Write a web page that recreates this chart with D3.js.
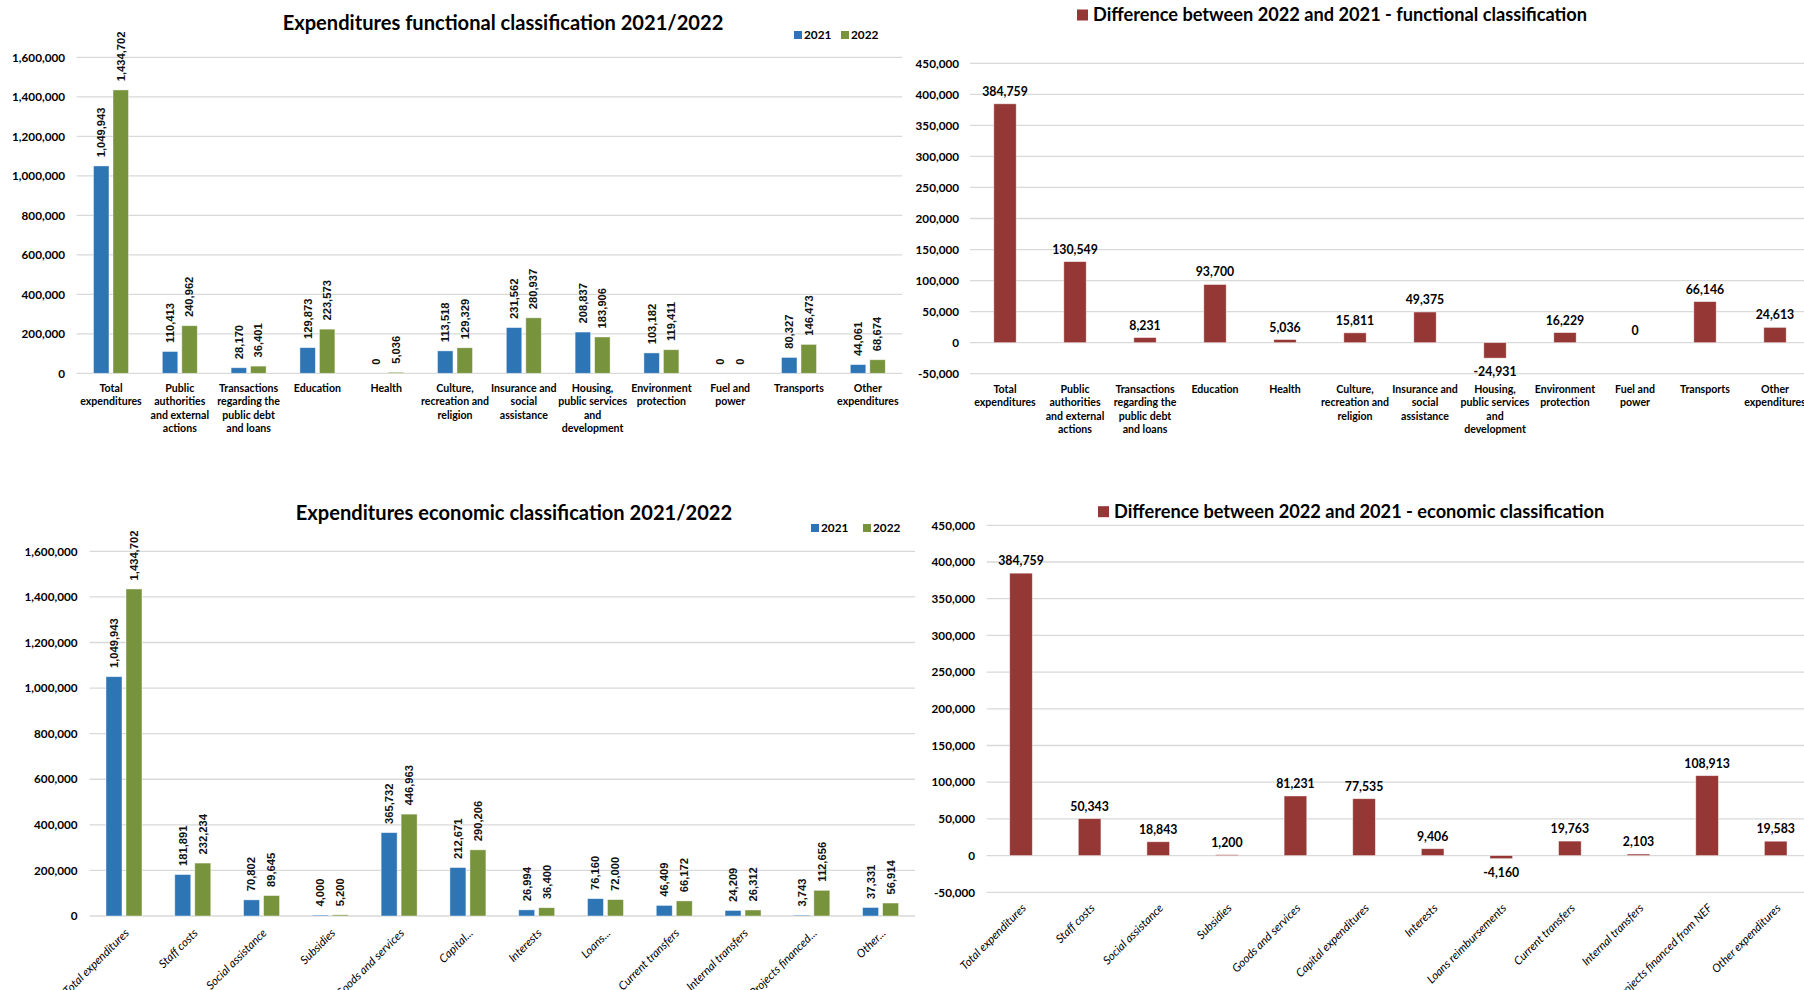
<!DOCTYPE html>
<html><head><meta charset="utf-8">
<script src="https://cdn.jsdelivr.net/npm/d3@7"></script>
<style>body{margin:0;background:#fff;overflow:hidden}</style>
</head><body><svg id="c" width="1804" height="990"></svg>
<script>
// ---------------- DATA ----------------
const seriesNames = ["2021", "2022"];

const functionalCategories = [
  "Total\nexpenditures",
  "Public\nauthorities\nand external\nactions",
  "Transactions\nregarding the\npublic debt\nand loans",
  "Education",
  "Health",
  "Culture,\nrecreation and\nreligion",
  "Insurance and\nsocial\nassistance",
  "Housing,\npublic services\nand\ndevelopment",
  "Environment\nprotection",
  "Fuel and\npower",
  "Transports",
  "Other\nexpenditures"
];
const functional2021 = [1049943, 110413, 28170, 129873, 0, 113518, 231562, 208837, 103182, 0, 80327, 44061];
const functional2022 = [1434702, 240962, 36401, 223573, 5036, 129329, 280937, 183906, 119411, 0, 146473, 68674];
const functionalDiff = [384759, 130549, 8231, 93700, 5036, 15811, 49375, -24931, 16229, 0, 66146, 24613];

const economicCategoriesShort = [
  "Total expenditures", "Staff costs", "Social assistance", "Subsidies", "Goods and services",
  "Capital...", "Interests", "Loans...", "Current transfers", "Internal transfers",
  "Projects financed...", "Other..."
];
const economicCategoriesFull = [
  "Total expenditures", "Staff costs", "Social assistance", "Subsidies", "Goods and services",
  "Capital expenditures", "Interests", "Loans reimbursements", "Current transfers", "Internal transfers",
  "Projects financed from NEF", "Other expenditures"
];
const economic2021 = [1049943, 181891, 70802, 4000, 365732, 212671, 26994, 76160, 46409, 24209, 3743, 37331];
const economic2022 = [1434702, 232234, 89645, 5200, 446963, 290206, 36400, 72000, 66172, 26312, 112656, 56914];
const economicDiff = [384759, 50343, 18843, 1200, 81231, 77535, 9406, -4160, 19763, 2103, 108913, 19583];

const groupedTicks = [0, 200000, 400000, 600000, 800000, 1000000, 1200000, 1400000, 1600000];
const diffTicks = [-50000, 0, 50000, 100000, 150000, 200000, 250000, 300000, 350000, 400000, 450000];

const titles = {
  functional: "Expenditures functional classification 2021/2022",
  functionalDiff: "Difference between 2022 and 2021 - functional classification",
  economic: "Expenditures economic classification 2021/2022",
  economicDiff: "Difference between 2022 and 2021 - economic classification"
};

// ---------------- STYLE ----------------
const FONT = "Lato, 'Open Sans', sans-serif";
const LABEL_FONT = "'Liberation Sans', Arial, sans-serif";
const COLORS = { "2021": "#2E75B6", "2022": "#77933C", diff: "#953735" };
const GRID = "#d9d9d9";

const svg = d3.select("#c");
const fmt = d3.formatLocale({decimal: ".", thousands: ",", grouping: [3], currency: ["", ""], minus: "-"}).format(",");

function drawGrid(g, y, ticks, x0, x1) {
  g.append("g").selectAll("line").data(ticks).join("line")
    .attr("x1", x0).attr("x2", x1)
    .attr("y1", d => y(d)).attr("y2", d => y(d))
    .attr("stroke", GRID).attr("stroke-width", 1.3);
}

function drawYAxis(g, y, ticks, xRight) {
  const ax = g.append("g").attr("transform", `translate(${xRight},0)`)
    .call(d3.axisLeft(y).tickValues(ticks).tickFormat(fmt).tickSize(0).tickPadding(0));
  ax.select(".domain").remove();
  ax.selectAll("text").attr("font-family", FONT).attr("font-weight", 700)
    .attr("font-size", 11.7).attr("fill", "#000");
}

function drawXAxis(g, x, yPos, rotated, labels) {
  const ax = g.append("g").attr("transform", `translate(0,${yPos})`)
    .call(d3.axisBottom(x).tickSize(0).tickPadding(0).tickFormat((d, i) => labels[i]));
  ax.select(".domain").remove();
  ax.selectAll(".tick text").each(function(d, i) {
    const t = d3.select(this);
    const txt = labels[i];
    t.attr("font-family", FONT).attr("fill", "#000");
    if (rotated) {
      t.attr("font-size", 11.5).attr("font-style", "italic").attr("font-weight", 400)
        .attr("text-anchor", "end").attr("x", 0).attr("y", 0).attr("dy", "0.71em")
        .attr("transform", "rotate(-45)");
    } else {
      const lines = txt.split("\n");
      t.text(null).attr("font-size", 10.6).attr("font-weight", 700).attr("y", 0).attr("dy", null);
      lines.forEach((ln, k) => {
        t.append("tspan").attr("x", 0).attr("y", k * 13.5).attr("dy", "0.35em").text(ln);
      });
    }
  });
}

function drawGrouped(cfg) {
  const g = svg.append("g");
  const x = d3.scaleBand(cfg.cats, [cfg.x0, cfg.x1]);
  const y = d3.scaleLinear([groupedTicks[0], groupedTicks[groupedTicks.length - 1]], [cfg.yBottom, cfg.yTop]);
  drawGrid(g, y, groupedTicks, cfg.x0, cfg.x1);
  drawYAxis(g, y, groupedTicks, cfg.labelRight);
  const half = (2 * cfg.barW + cfg.gap) / 2;
  const xs = d3.scaleBand(seriesNames, [-half, half]).paddingInner(cfg.gap / (cfg.barW + cfg.gap));
  const flat = cfg.cats.flatMap((c, i) => seriesNames.map((s, j) => ({c, s, v: [cfg.s1, cfg.s2][j][i]})));
  g.append("g").selectAll("rect").data(flat).join("rect")
    .attr("x", d => x(d.c) + x.bandwidth() / 2 + xs(d.s))
    .attr("width", xs.bandwidth())
    .attr("y", d => y(d.v))
    .attr("height", d => y(0) - y(d.v))
    .attr("fill", d => COLORS[d.s])
    .attr("stroke", d => d.v > 0 ? "#fff" : "none")
    .attr("stroke-opacity", 0.55).attr("stroke-width", 0.8);
  g.append("g").selectAll("text").data(flat).join("text")
    .attr("transform", d => {
      const cx = x(d.c) + x.bandwidth() / 2 + xs(d.s) + xs.bandwidth() / 2;
      return `translate(${cx},${y(d.v) - 8.6}) rotate(-90)`;
    })
    .attr("text-anchor", "start").attr("dy", "0.35em")
    .attr("font-family", LABEL_FONT).attr("font-weight", 700).attr("font-size", 11.2)
    .attr("fill", "#111").text(d => fmt(d.v));
  drawXAxis(g, x, cfg.xLabelY, cfg.rotated, cfg.labels);
  // title
  g.append("text").attr("x", cfg.titleX).attr("y", cfg.titleY).attr("dy", "0.35em")
    .attr("text-anchor", "middle").attr("font-family", FONT).attr("font-weight", 700)
    .attr("font-size", 20.1).attr("fill", "#000").text(cfg.title);
  // legend
  const lg = g.append("g").selectAll("g").data(seriesNames).join("g")
    .attr("transform", (d, i) => `translate(${cfg.legendX[i]},${cfg.legendY})`);
  lg.append("rect").attr("x", 0).attr("y", -4).attr("width", 8).attr("height", 8).attr("fill", d => COLORS[d]);
  lg.append("text").attr("x", 10).attr("y", 0).attr("dy", "0.35em")
    .attr("font-family", FONT).attr("font-weight", 700).attr("font-size", 11.8).attr("fill", "#000").text(d => d);
}

function drawDiff(cfg) {
  const g = svg.append("g");
  const x = d3.scaleBand(cfg.cats, [cfg.x0, cfg.x1]);
  const y = d3.scaleLinear([diffTicks[0], diffTicks[diffTicks.length - 1]], [cfg.yBottom, cfg.yTop]);
  drawGrid(g, y, diffTicks, cfg.x0, cfg.x1);
  drawYAxis(g, y, diffTicks, cfg.labelRight);
  const bw = x.bandwidth() * cfg.barFrac;
  const data = cfg.cats.map((c, i) => ({c, v: cfg.values[i]}));
  g.append("g").selectAll("rect").data(data).join("rect")
    .attr("x", d => x(d.c) + x.bandwidth() / 2 - bw / 2)
    .attr("width", bw)
    .attr("y", d => y(Math.max(0, d.v)))
    .attr("height", d => Math.abs(y(d.v) - y(0)))
    .attr("fill", COLORS.diff)
    .attr("stroke", d => d.v !== 0 ? "#fff" : "none")
    .attr("stroke-opacity", 0.55).attr("stroke-width", 0.8);
  g.append("g").selectAll("text").data(data).join("text")
    .attr("x", d => x(d.c) + x.bandwidth() / 2)
    .attr("y", d => d.v >= 0 ? y(d.v) - 8 : y(d.v) + 9)
    .attr("dy", d => d.v >= 0 ? 0 : "0.75em")
    .attr("text-anchor", "middle")
    .attr("font-family", FONT).attr("font-weight", 700).attr("font-size", 12.3)
    .attr("fill", "#000").text(d => fmt(d.v));
  drawXAxis(g, x, cfg.xLabelY, cfg.rotated, cfg.labels);
  // title with legend swatch
  const tg = g.append("g").attr("transform", `translate(${cfg.titleX},${cfg.titleY})`);
  tg.append("rect").attr("x", 0).attr("y", -5.5).attr("width", 11).attr("height", 11).attr("fill", COLORS.diff);
  tg.append("text").attr("x", 16).attr("y", 0).attr("dy", "0.35em")
    .attr("font-family", FONT).attr("font-weight", 700).attr("font-size", 18.2)
    .attr("fill", "#000").text(cfg.title);
}

// ---------------- PANELS ----------------
drawGrouped({
  cats: functionalCategories, labels: functionalCategories, s1: functional2021, s2: functional2022,
  x0: 76.6, x1: 902.2, yTop: 57.3, yBottom: 373.3, labelRight: 65,
  barW: 15.5, gap: 4, xLabelY: 388, rotated: false,
  title: titles.functional, titleX: 503, titleY: 22.7, legendX: [794, 841], legendY: 35
});

drawDiff({
  cats: functionalCategories, labels: functionalCategories, values: functionalDiff,
  x0: 970, x1: 1810, yTop: 63.3, yBottom: 373.7, labelRight: 959,
  barFrac: 0.32, xLabelY: 389, rotated: false,
  title: titles.functionalDiff, titleX: 1077, titleY: 15
});

drawGrouped({
  cats: economicCategoriesFull, labels: economicCategoriesShort, s1: economic2021, s2: economic2022,
  x0: 89.6, x1: 915, yTop: 551.3, yBottom: 916, labelRight: 77.5,
  barW: 16, gap: 4, xLabelY: 928, rotated: true,
  title: titles.economic, titleX: 514, titleY: 513, legendX: [811, 863], legendY: 528
});

drawDiff({
  cats: economicCategoriesFull, labels: economicCategoriesFull, values: economicDiff,
  x0: 986.7, x1: 1810, yTop: 525.3, yBottom: 892.3, labelRight: 975,
  barFrac: 0.33, xLabelY: 903, rotated: true,
  title: titles.economicDiff, titleX: 1098, titleY: 511.7
});
</script>
</body></html>
